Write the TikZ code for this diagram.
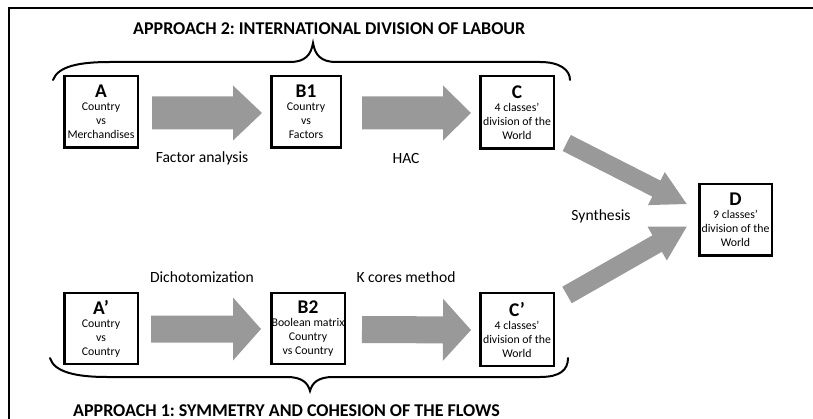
\documentclass[tikz,border=0pt]{standalone}
\usepackage{fontspec}
\setmainfont{Carlito}
\usetikzlibrary{calc}
\frenchspacing
\definecolor{arrowgrey}{RGB}{153,153,153}
\newcommand{\boxlet}[1]{{\fontsize{19.4pt}{20pt}\selectfont\bfseries #1}}
\newcommand{\blockarr}[5]{%
  \coordinate (bh) at ($(#2)!#5!(#1)$);
  \fill[arrowgrey] ($(#1)!#3!90:(#2)$) -- ($(bh)!#3!-90:(#1)$) -- ($(bh)!#4!-90:(#1)$) -- (#2) -- ($(bh)!#4!90:(#1)$) -- ($(bh)!#3!90:(#1)$) -- ($(#1)!#3!-90:(#2)$) -- cycle;}
\begin{document}
\begin{tikzpicture}[x=1pt,y=-1pt,
  box/.style={draw, line width=2.5pt, inner sep=0pt, align=center,
    font=\fontsize{11.8pt}{14pt}\selectfont},
  steplabel/.style={font=\fontsize{15.6pt}{18pt}\selectfont, inner sep=0pt},
  approach/.style={font=\fontsize{18pt}{20pt}\selectfont\bfseries, inner sep=0pt},
  bracepath/.style={line width=2pt, line cap=round}]
\useasboundingbox (0,0) rectangle (813,419);
% frame
\draw[line width=1.5pt] (9,419) -- (9,8) -- (813,8);
% boxes
\node[box, minimum width=73.5pt, minimum height=71.5pt] (A) at (101,112) {\boxlet{A}\\[-1pt]Country\\vs\\Merchandises};
\node[box, minimum width=69.5pt, minimum height=71.5pt] (B1) at (306,112) {\boxlet{B1}\\[-1pt]Country\\vs\\Factors};
\node[box, minimum width=73.5pt, minimum height=72.5pt] (C) at (517,112.5) {\boxlet{C}\\[-1pt]4 classes’\\division of the\\World};
\node[box, minimum width=72.5pt, minimum height=71.5pt] (D) at (735.5,220) {\boxlet{D}\\[-1pt]9 classes’\\division of the\\World};
\node[box, minimum width=73.5pt, minimum height=70.5pt] (A2) at (101,328.5) {\boxlet{A’}\\[-1pt]Country\\vs\\Country};
\node[box, minimum width=73.5pt, minimum height=70.5pt] (B2) at (308,328.5) {\boxlet{B2}\\[-1pt]Boolean matrix\\Country\\vs Country};
\node[box, minimum width=73.5pt, minimum height=72.5pt] (C2) at (517,329.5) {\boxlet{C’}\\[-1pt]4 classes’\\division of the\\World};
% arrow end points
\coordinate (a1s) at ($(A.east)+(13,1)$);
\coordinate (a1e) at ($(B1.west)+(-8,1)$);
\coordinate (a2s) at ($(B1.east)+(20,1)$);
\coordinate (a2e) at ($(C.west)+(-8,0.5)$);
\coordinate (a3s) at ($(A2.east)+(12,0.5)$);
\coordinate (a3e) at ($(B2.west)+(-9,0.5)$);
\coordinate (a4s) at ($(B2.east)+(16,1)$);
\coordinate (a4e) at ($(C2.west)+(-8,0.5)$);
\coordinate (a5s) at ($(C.south east)+(11.7,-7)$);
\coordinate (a5e) at ($(D.west)+(-11.3,-16)$);
\coordinate (a6s) at ($(C2.north east)+(12,3)$);
\coordinate (a6e) at ($(D.west)+(-11.3,6.7)$);
\blockarr{a1s}{a1e}{16.5pt}{27.5pt}{29pt}
\blockarr{a2s}{a2e}{16.5pt}{27.5pt}{28pt}
\blockarr{a3s}{a3e}{13.5pt}{31.5pt}{28pt}
\blockarr{a4s}{a4e}{13.5pt}{31pt}{28pt}
\blockarr{a5s}{a5e}{9pt}{18.5pt}{34pt}
\blockarr{a6s}{a6e}{9.5pt}{19.5pt}{34pt}
% labels
\node[steplabel] (l1) at (202,158) {Factor analysis};
\node[steplabel] (l2) at (406,158) {HAC};
\node[steplabel] (l3) at (601,216) {Synthesis};
\node[steplabel] (l4) at (202,277) {Dichotomization};
\node[steplabel] (l5) at (406,277) {K cores method};
% approach titles
\node[approach, anchor=base west] (t2) at (133,35) {APPROACH 2: INTERNATIONAL DIVISION OF LABOUR};
\node[approach, anchor=base west] (t1) at (73,416) {APPROACH 1: SYMMETRY AND COHESION OF THE FLOWS};
% braces
\draw[bracepath] (53,80) .. controls (58,66) and (80,62) .. (110,62) -- (290,62)
  .. controls (305,62) and (311,55) .. (313,43)
  .. controls (315,55) and (321,62) .. (336,62) -- (540,62)
  .. controls (560,62) and (570,70) .. (570,80);
\draw[bracepath] (50,358) .. controls (54,372) and (76,377) .. (107,377) -- (287,377)
  .. controls (302,377) and (308,383) .. (310,391)
  .. controls (312,383) and (318,377) .. (333,377) -- (540,377)
  .. controls (560,377) and (568,370) .. (568,358);
\end{tikzpicture}
\end{document}
